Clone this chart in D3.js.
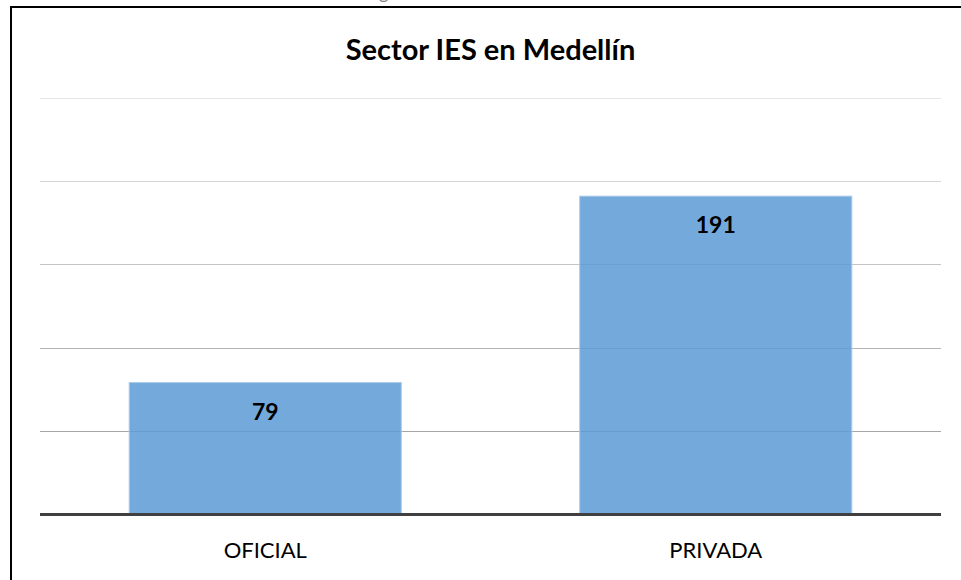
<!DOCTYPE html>
<html>
<head>
<meta charset="utf-8">
<script src="https://cdn.jsdelivr.net/npm/d3@7"></script>
<style>
  body { margin: 0; background: #fff; }
  svg { display: block; }
</style>
</head>
<body>
<div id="chart"></div>
<script>
// data
var categories = ["OFICIAL", "PRIVADA"];
var values = [79, 191];
var yTicks = [0, 50, 100, 150, 200, 250];
var title = "Sector IES en Medellín";
var caption = "Figura 3. Sector IES en Medellín";

var width = 961, height = 580;
var font = "Lato, 'Open Sans', sans-serif";

var svg = d3.select("#chart").append("svg")
	.attr("width", width).attr("height", height);

// cut-off caption at top (only the descenders show, as in the source)
svg.append("text")
	.attr("x", 490).attr("y", -1)
	.attr("text-anchor", "middle")
	.attr("font-family", font).attr("font-size", 18)
	.attr("fill", "#808080")
	.text(caption);

// chart frame (runs past the right/bottom edge)
svg.append("rect")
	.attr("x", 11).attr("y", 7)
	.attr("width", 980).attr("height", 600)
	.attr("fill", "none").attr("stroke", "#000").attr("stroke-width", 2);

var plot = { left: 40, right: 941, top: 98, bottom: 514 };

var x = d3.scaleBand().domain(categories)
	.range([plot.left, plot.right])
	.paddingInner(0.396).paddingOuter(0.198);

var y = d3.scaleLinear().domain([0, 250]).range([plot.bottom, plot.top]);

// gridlines
var gridColors = ["#e6e6e6", "#d4d4d4", "#c4c4c4", "#b4b4b4", "#a6a6a6"];
svg.append("g").selectAll("line")
	.data(yTicks.slice(1))
	.enter().append("line")
	.attr("x1", plot.left).attr("x2", plot.right)
	.attr("y1", function(d) { return Math.round(y(d)) + 0.5; })
	.attr("y2", function(d) { return Math.round(y(d)) + 0.5; })
	.attr("stroke", function(d, i) { return gridColors[gridColors.length - 1 - i]; })
	.attr("stroke-width", 1);

// bars
svg.append("g").selectAll("rect")
	.data(values)
	.enter().append("rect")
	.attr("x", function(d, i) { return x(categories[i]); })
	.attr("y", function(d) { return y(d); })
	.attr("width", x.bandwidth())
	.attr("height", function(d) { return y(0) - y(d); })
	.attr("fill", "#5b9bd5").attr("fill-opacity", 0.85)
	.attr("stroke", "#a9c9ea").attr("stroke-width", 1);

// baseline
svg.append("line")
	.attr("x1", plot.left).attr("x2", plot.right)
	.attr("y1", y(0) + 0.5).attr("y2", y(0) + 0.5)
	.attr("stroke", "#404040").attr("stroke-width", 3);

// value labels
svg.append("g").selectAll("text")
	.data(values)
	.enter().append("text")
	.attr("x", function(d, i) { return x(categories[i]) + x.bandwidth() / 2; })
	.attr("y", function(d) { return y(d) + 37; })
	.attr("text-anchor", "middle")
	.attr("font-family", font).attr("font-weight", "bold").attr("font-size", 23)
	.attr("fill", "#000")
	.text(function(d) { return d; });

// category axis
var xAxis = svg.append("g")
	.attr("transform", "translate(0," + plot.bottom + ")")
	.call(d3.axisBottom(x).tickSize(0).tickPadding(28));
xAxis.select(".domain").remove();
xAxis.selectAll("text")
	.attr("font-family", font).attr("font-size", 22).attr("fill", "#000");

// title
svg.append("text")
	.attr("x", (plot.left + plot.right) / 2).attr("y", 60)
	.attr("text-anchor", "middle")
	.attr("font-family", font).attr("font-weight", "bold").attr("font-size", 29)
	.attr("fill", "#000")
	.text(title);
</script>
</body>
</html>
